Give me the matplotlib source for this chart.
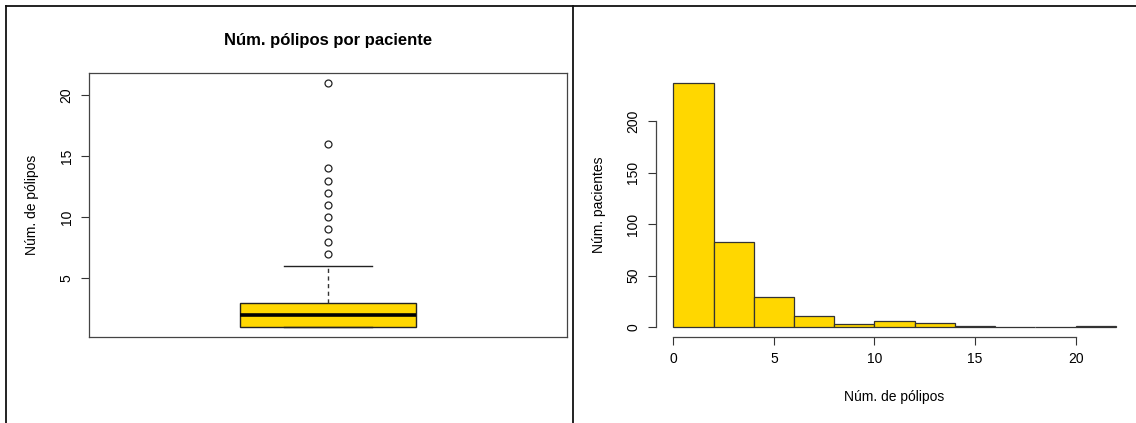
#!/usr/bin/env python3
"""Boxplot + histogram of polyps per patient (R base-graphics look)."""

import matplotlib
matplotlib.use("Agg")
import matplotlib.pyplot as plt
from matplotlib.lines import Line2D
import numpy as np

plt.rcParams.update({
    "font.family": ["Liberation Sans", "DejaVu Sans"],
    "font.size": 10,
})

# boxplot summary
box_q1, box_median, box_q3 = 1, 2, 3
whisker_low, whisker_high = 1, 6
outliers = [7, 8, 9, 10, 11, 12, 13, 14, 16, 21]

# histogram: bins of width 2
bin_edges = [0, 2, 4, 6, 8, 10, 12, 14, 16, 18, 20, 22]
bin_counts = [237, 83, 29, 11, 3, 6, 4, 1, 0, 0, 1]

GOLD = "#FFD700"
W, H = 1136, 423


def px_axes(fig, x0, x1, ytop, ybot):
    return fig.add_axes([x0 / W, 1 - ybot / H, (x1 - x0) / W, (ybot - ytop) / H])


def main():
    fig = plt.figure(figsize=(W / 100, H / 100), dpi=100)
    fig.patch.set_facecolor("white")

    # ---- left: boxplot ----
    ax = px_axes(fig, 89, 567, 73, 337)
    stats = [{
        "med": box_median, "q1": box_q1, "q3": box_q3,
        "whislo": whisker_low, "whishi": whisker_high,
        "fliers": outliers,
    }]
    ax.bxp(stats, positions=[1], widths=0.37, capwidths=0.184,
           patch_artist=True, manage_ticks=False,
           boxprops=dict(facecolor=GOLD, edgecolor="#222222", linewidth=1.0),
           medianprops=dict(color="black", linewidth=2.6),
           whiskerprops=dict(color="#333333", linewidth=1.0, linestyle=(0, (3, 2.5))),
           capprops=dict(color="#222222", linewidth=1.0),
           flierprops=dict(marker="o", markersize=5, markerfacecolor="none",
                           markeredgecolor="#222222", markeredgewidth=0.9))
    ax.set_xlim(0.5, 1.5)
    lo, hi = min(box_q1, whisker_low), max(outliers)
    pad = 0.04 * (hi - lo)
    ax.set_ylim(lo - pad, hi + pad)
    ax.set_xticks([])
    ax.set_yticks([5, 10, 15, 20])
    ax.tick_params(axis="y", length=6, width=0.8, pad=5, color="#333333")
    for lab in ax.get_yticklabels():
        lab.set_rotation(90)
        lab.set_va("center")
    for sp in ax.spines.values():
        sp.set_linewidth(0.9)
        sp.set_color("#444444")
    ax.set_ylabel("Núm. de pólipos")
    ax.yaxis.set_label_coords(-0.12, 0.5)
    ax.yaxis.label.set_va("center")
    ax.set_title("Núm. pólipos por paciente", fontsize=12, fontweight="bold",
                 y=1 + 32 / 264, pad=0, va="center")

    # ---- right: histogram ----
    ax2 = px_axes(fig, 655.6, 1133.5, 73, 337)
    edges = np.array(bin_edges)
    ax2.bar(edges[:-1], bin_counts, width=np.diff(edges), align="edge",
            color=GOLD, edgecolor="#333333", linewidth=0.9)
    xr = edges[-1] - edges[0]
    ax2.set_xlim(edges[0] - 0.04 * xr, edges[-1] + 0.04 * xr)
    ymax = max(bin_counts)
    ax2.set_ylim(-0.04 * ymax, ymax * 1.04)
    ax2.set_xticks([0, 5, 10, 15, 20])
    ax2.set_yticks([0, 50, 100, 150, 200])
    for side in ("top", "right"):
        ax2.spines[side].set_visible(False)
    ax2.spines["left"].set_bounds(0, 200)
    ax2.spines["bottom"].set_bounds(0, 20)
    for side in ("left", "bottom"):
        ax2.spines[side].set_linewidth(0.9)
        ax2.spines[side].set_color("#444444")
    ax2.tick_params(length=6, width=0.8, pad=5, color="#333333")
    for lab in ax2.get_yticklabels():
        lab.set_rotation(90)
        lab.set_va("center")
    ax2.set_ylabel("Núm. pacientes")
    ax2.yaxis.set_label_coords(-0.118, 0.5)
    ax2.yaxis.label.set_va("center")
    ax2.set_xlabel("Núm. de pólipos")
    ax2.xaxis.set_label_coords(0.5, -0.227)
    ax2.xaxis.label.set_va("center")

    # panel frames
    for xs, ys in [((6, W), (6, 6)), ((6, 6), (6, H)), ((573, 573), (6, H))]:
        fig.add_artist(Line2D([x / W for x in xs], [1 - y / H for y in ys],
                              color="#111111", linewidth=1.3))

    fig.savefig("out.png", dpi=100)
    plt.close(fig)


if __name__ == "__main__":
    main()
